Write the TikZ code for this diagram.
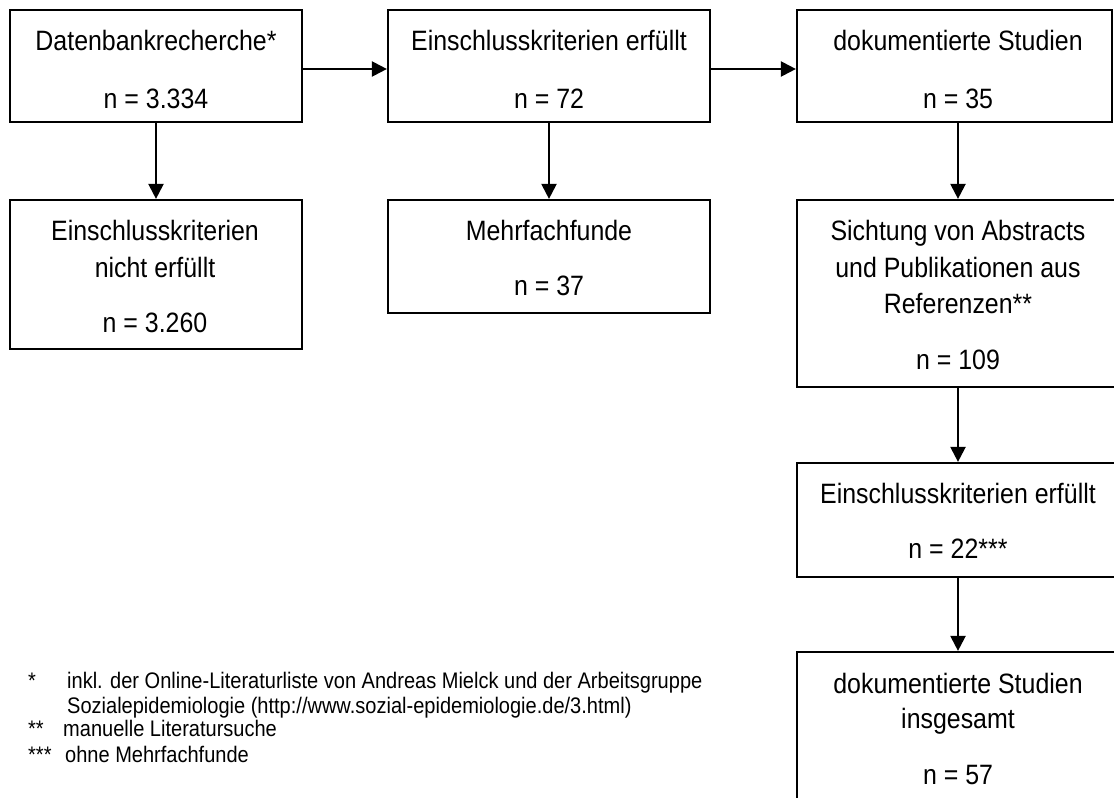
\documentclass[tikz,border=0pt]{standalone}
\usepackage{fontspec}
\setmainfont[FakeStretch=0.89]{Liberation Sans}
\usetikzlibrary{arrows.meta}
\begin{document}
\begin{tikzpicture}[x=1pt,y=-1pt,
  box/.style={draw, line width=2.2pt, rectangle, inner sep=0pt},
  txt/.style={anchor=base, inner sep=0pt, font=\fontsize{28}{32}\selectfont},
  fn/.style={anchor=base west, inner sep=0pt, font=\fontsize{22.5}{26}\selectfont},
  arr/.style={line width=2.2pt, -{Triangle[length=15pt,width=15pt]}}]
\useasboundingbox (0,0) rectangle (1114,798);

% boxes
\node[box, minimum width=292pt, minimum height=112pt] (b1) at (156,66) {};
\node[box, minimum width=322pt, minimum height=112pt] (b2) at (549,66) {};
\node[box, minimum width=315pt, minimum height=112pt] (b3) at (954.5,66) {};
\node[box, minimum width=292pt, minimum height=149pt] (b4) at (156,274.5) {};
\node[box, minimum width=322pt, minimum height=113pt] (b5) at (549,256.5) {};
\node[box, minimum width=323pt, minimum height=187pt] (b6) at (958.5,293.5) {};
\node[box, minimum width=323pt, minimum height=114pt] (b7) at (958.5,520) {};
\node[box, minimum width=323pt, minimum height=178pt] (b8) at (958.5,741) {};
\coordinate (colR) at (958,0);

% texts
\node[txt] (t1a) at (156,50) {Datenbankrecherche*};
\node[txt] (t1b) at (156,108) {n = 3.334};
\node[txt] (t2a) at (549,50) {Einschlusskriterien erfüllt};
\node[txt] (t2b) at (549,108) {n = 72};
\node[txt] (t3a) at (958,50) {dokumentierte Studien};
\node[txt] (t3b) at (958,108) {n = 35};
\node[txt] (t4a) at (155,240) {Einschlusskriterien};
\node[txt] (t4b) at (155,277) {nicht erfüllt};
\node[txt] (t4c) at (155,332) {n = 3.260};
\node[txt] (t5a) at (549,240) {Mehrfachfunde};
\node[txt] (t5b) at (549,295) {n = 37};
\node[txt] (t6a) at (958,240) {Sichtung von Abstracts};
\node[txt] (t6b) at (958,277) {und Publikationen aus};
\node[txt] (t6c) at (958,313) {Referenzen**};
\node[txt] (t6d) at (958,369) {n = 109};
\node[txt] (t7a) at (958,503) {Einschlusskriterien erfüllt};
\node[txt] (t7b) at (958,558) {n = 22***};
\node[txt] (t8a) at (958,693) {dokumentierte Studien};
\node[txt] (t8b) at (958,728) {insgesamt};
\node[txt] (t8c) at (958,784) {n = 57};

% arrows
\draw[arr] ([yshift=-3pt]b1.east) -- ([yshift=-3pt]b2.west);
\draw[arr] ([yshift=-3pt]b2.east) -- ([yshift=-3pt]b3.west);
\draw[arr] (b1.south -| t1a) -- (b4.north -| t1a);
\draw[arr] (b2.south) -- (b5.north);
\draw[arr] (b3.south -| colR) -- (b6.north -| colR);
\draw[arr] (b6.south -| colR) -- (b7.north -| colR);
\draw[arr] (b7.south -| colR) -- (b8.north -| colR);

% footnotes
\node[fn] (f1s) at (28,688) {*};
\node[fn] (f1a) at (67,688) {inkl. der Online-Literaturliste von Andreas Mielck und der Arbeitsgruppe};
\node[fn] (f1b) at (67,713) {Sozialepidemiologie (http://www.sozial-epidemiologie.de/3.html)};
\node[fn] (f2s) at (28,736) {**};
\node[fn] (f2a) at (63,736) {manuelle Literatursuche};
\node[fn] (f3s) at (28,762) {***};
\node[fn] (f3a) at (65,762) {ohne Mehrfachfunde};
\end{tikzpicture}
\end{document}
